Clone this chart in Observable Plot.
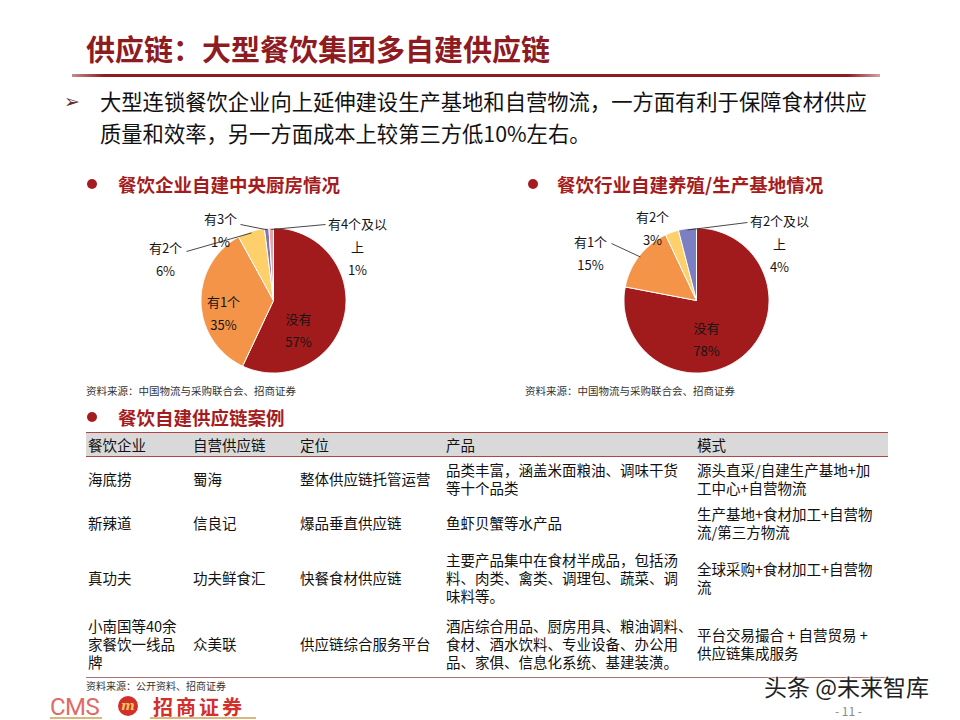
<!DOCTYPE html>
<html><head><meta charset="utf-8">
<script src="https://cdn.jsdelivr.net/npm/d3@7"></script>
<script src="https://cdn.jsdelivr.net/npm/@observablehq/plot@0.6"></script>
<style>
html,body{margin:0;padding:0;background:#fff;}
body{width:960px;height:720px;position:relative;overflow:hidden;font-family:"Noto Sans CJK SC","Noto Sans",sans-serif;color:#111;}
.abs{position:absolute;white-space:nowrap;}
#title{left:86px;top:29px;font-size:29px;font-weight:700;color:#8E1B1F;line-height:38px;}
#rule{left:72px;top:74px;width:808px;height:2.5px;background:linear-gradient(to right,rgba(142,27,31,0.5),#8E1B1F 4%,#8E1B1F 96%,rgba(142,27,31,0.4));}
#arrow{left:64px;top:88px;font-size:19px;line-height:26px;color:#5a3030;font-family:"DejaVu Sans",sans-serif;}
#lead{left:100px;top:85px;font-size:21.3px;line-height:32px;color:#111;}
.sec{font-size:18.5px;font-weight:700;color:#A51C20;line-height:24px;}
.dot{position:absolute;width:10px;height:10px;border-radius:50%;background:#A51C20;}
.src{font-size:10.5px;line-height:14px;color:#333;}
#tbl{position:absolute;left:86px;top:432px;border-collapse:collapse;font-size:14.5px;line-height:18px;color:#111;}
#tbl th{background:#D9D9D9;font-weight:400;text-align:left;height:23px;padding:0 0 0 2px;border-top:1.6px solid #B04545;border-bottom:1.6px solid #B04545;vertical-align:middle;}
#tbl td{padding:0 0 0 2px;vertical-align:middle;white-space:pre;text-align:left;}
#tbl tr.last td{border-bottom:1.6px solid #A87272;}
</style></head>
<body>
<div id="title" class="abs"></div>
<div id="rule" class="abs"></div>
<div id="arrow" class="abs">➢</div>
<div id="lead" class="abs"></div>

<div class="dot" style="left:87px;top:179px"></div>
<div id="sec1" class="abs sec" style="left:118px;top:172px"></div>
<div class="dot" style="left:528px;top:179px"></div>
<div id="sec2" class="abs sec" style="left:557px;top:172px"></div>

<div id="pie1" class="abs" style="left:123px;top:195px"></div>
<div id="pie2" class="abs" style="left:546px;top:195px"></div>

<div id="src1" class="abs src" style="left:86px;top:384px"></div>
<div id="src2" class="abs src" style="left:525px;top:384px"></div>

<div class="dot" style="left:87px;top:412px"></div>
<div id="sec3" class="abs sec" style="left:118px;top:405px"></div>

<table id="tbl"></table>

<div id="src3" class="abs src" style="left:86px;top:680px;font-size:10px;line-height:12px;"></div>

<div class="abs" style="left:50px;top:697px;font-size:24px;line-height:20px;color:#E26A66;font-family:'Liberation Sans Narrow','Roboto',sans-serif;letter-spacing:-0.5px;">CMS</div>
<div class="abs" style="left:118px;top:696px;width:20px;height:20px;border-radius:50%;background:#D2302C;color:#F6C65A;font-size:13px;line-height:19px;text-align:center;font-weight:700;font-style:italic;font-family:'DejaVu Serif',serif;">m</div>
<div class="abs" style="left:153px;top:697px;font-size:20px;line-height:20px;color:#D2302C;font-weight:700;letter-spacing:3px;">招商证券</div>
<div class="abs" style="left:50px;top:717px;width:52px;height:2px;background:#D9B77E;"></div>
<div class="abs" style="left:150px;top:717px;width:106px;height:2px;background:#D9B77E;"></div>

<div class="abs" style="left:764px;top:675px;font-size:23px;line-height:22px;color:#222;text-shadow:0 0 2px #fff,0 0 2px #fff,0 0 3px #fff;">头条 @未来智库</div>
<div class="abs" style="left:835px;top:704px;font-size:12px;line-height:14px;color:#8a8a8a;">- 11 -</div>

<script>
// ---------- text ----------
const titleText = "供应链：大型餐饮集团多自建供应链";
const leadLines = ["大型连锁餐饮企业向上延伸建设生产基地和自营物流，一方面有利于保障食材供应", "质量和效率，另一方面成本上较第三方低10%左右。"];
const sectionTitles = ["餐饮企业自建中央厨房情况", "餐饮行业自建养殖/生产基地情况", "餐饮自建供应链案例"];
const pieSource = "资料来源：中国物流与采购联合会、招商证券";
const tableSource = "资料来源：公开资料、招商证券";

// ---------- pie data ----------
const kitchenCats = ["没有", "有1个", "有2个", "有3个", "有4个及以上"];
const kitchenShares = [57, 35, 6, 1, 1];
const baseCats = ["没有", "有1个", "有2个", "有2个及以上"];
const baseShares = [78, 15, 3, 4];

// ---------- table data ----------
const tableHeader = ["餐饮企业", "自营供应链", "定位", "产品", "模式"];
const companies = ["海底捞", "新辣道", "真功夫", "小南国等40余\n家餐饮一线品\n牌"];
const ownChains = ["蜀海", "信良记", "功夫鲜食汇", "众美联"];
const positioning = ["整体供应链托管运营", "爆品垂直供应链", "快餐食材供应链", "供应链综合服务平台"];
const products = [
  "品类丰富，涵盖米面粮油、调味干货\n等十个品类",
  "鱼虾贝蟹等水产品",
  "主要产品集中在食材半成品，包括汤\n料、肉类、禽类、调理包、蔬菜、调\n味料等。",
  "酒店综合用品、厨房用具、粮油调料、\n食材、酒水饮料、专业设备、办公用\n品、家俱、信息化系统、基建装潢。"
];
const modes = [
  "源头直采/自建生产基地+加\n工中心+自营物流",
  "生产基地+食材加工+自营物\n流/第三方物流",
  "全球采购+食材加工+自营物\n流",
  "平台交易撮合 + 自营贸易 +\n供应链集成服务"
];

// ---------- styles / layout (kept apart from data) ----------
const kitchenColors = ["#A21B1C", "#F39448", "#FDD06B", "#8376A8", "#E6A3AA"];
const baseColors = ["#A21B1C", "#F39448", "#FDD06B", "#7B80C2"];
const kitchenLabelPos = {"没有": [25, 28], "有1个": [-50, 11], "有2个": [-108, -43], "有3个": [-53, -72], "有4个及以上": [84, -56]};
const kitchenLeaders = {"有2个": [-87, -49], "有3个": [-33, -76], "有4个及以上": [52, -76]};
const baseLabelPos = {"没有": [10, 37], "有1个": [-106, -49], "有2个": [-44, -74], "有2个及以上": [83, -59]};
const baseLeaders = {"有1个": [-85, -57], "有2个及以上": [51, -78]};

document.getElementById("title").textContent = titleText;
document.getElementById("lead").innerHTML = leadLines.join("<br>");
["sec1", "sec2", "sec3"].forEach((id, i) => document.getElementById(id).textContent = sectionTitles[i]);
document.getElementById("src1").textContent = pieSource;
document.getElementById("src2").textContent = pieSource;
document.getElementById("src3").textContent = tableSource;

function wrapLabel(s) { return s.length > 5 ? s.slice(0, 5) + "\n" + s.slice(5) : s; }

function pieChart(cats, shares, colors, labelPos, leaders) {
  const W = 300, H = 190, cx = 150, cy = 105, r = 72.5;
  const arcs = d3.pie().sort(null).value(d => d.share)(cats.map((c, i) => ({cat: c, share: shares[i]})));
  const pts = [], labels = [], links = [];
  for (const a of arcs) {
    const c = a.data.cat;
    pts.push({cat: c, x: 0, y: 0});
    const n = Math.max(2, Math.ceil((a.endAngle - a.startAngle) / 0.015));
    for (let k = 0; k <= n; k++) {
      const t = a.startAngle + (a.endAngle - a.startAngle) * k / n;
      pts.push({cat: c, x: r * Math.sin(t), y: -r * Math.cos(t)});
    }
    pts.push({cat: c, x: 0, y: 0});
    const p = labelPos[c];
    labels.push({x: p[0], y: p[1], text: wrapLabel(c) + "\n" + a.data.share + "%"});
    if (leaders[c]) {
      const m = (a.startAngle + a.endAngle) / 2;
      links.push({x1: r * 0.98 * Math.sin(m), y1: -r * 0.98 * Math.cos(m), x2: leaders[c][0], y2: leaders[c][1]});
    }
  }
  return Plot.plot({
    width: W, height: H, margin: 0,
    x: {domain: [-cx, W - cx], range: [0, W], axis: null},
    y: {domain: [-cy, H - cy], range: [0, H], axis: null},
    color: {type: "ordinal", domain: cats, range: colors},
    style: {fontFamily: "'Noto Sans CJK SC', sans-serif", background: "transparent", overflow: "visible"},
    marks: [
      Plot.line(pts, {x: "x", y: "y", z: "cat", fill: "cat", stroke: "white", strokeWidth: 1, curve: "linear"}),
      Plot.link(links, {x1: "x1", y1: "y1", x2: "x2", y2: "y2", stroke: "#333", strokeWidth: 0.9}),
      Plot.text(labels, {x: "x", y: "y", text: "text", fontSize: 13, lineHeight: 1.75, fill: "#151515"})
    ]
  });
}

document.getElementById("pie1").append(pieChart(kitchenCats, kitchenShares, kitchenColors, kitchenLabelPos, kitchenLeaders));
document.getElementById("pie2").append(pieChart(baseCats, baseShares, baseColors, baseLabelPos, baseLeaders));

// ---------- table ----------
const colWidths = [105, 107, 146, 251, 193];
const rowHeights = [44, 44, 65, 67];
const tbl = document.getElementById("tbl");
const thead = document.createElement("tr");
tableHeader.forEach((h, j) => { const th = document.createElement("th"); th.textContent = h; th.style.width = (colWidths[j] - 2) + "px"; thead.append(th); });
tbl.append(thead);
companies.forEach((c, i) => {
  const tr = document.createElement("tr");
  if (i === companies.length - 1) tr.className = "last";
  [c, ownChains[i], positioning[i], products[i], modes[i]].forEach((v, j) => {
    const td = document.createElement("td");
    td.textContent = v;
    td.style.width = (colWidths[j] - 2) + "px";
    td.style.height = rowHeights[i] + "px";
    tr.append(td);
  });
  tbl.append(tr);
});
</script>
</body></html>
